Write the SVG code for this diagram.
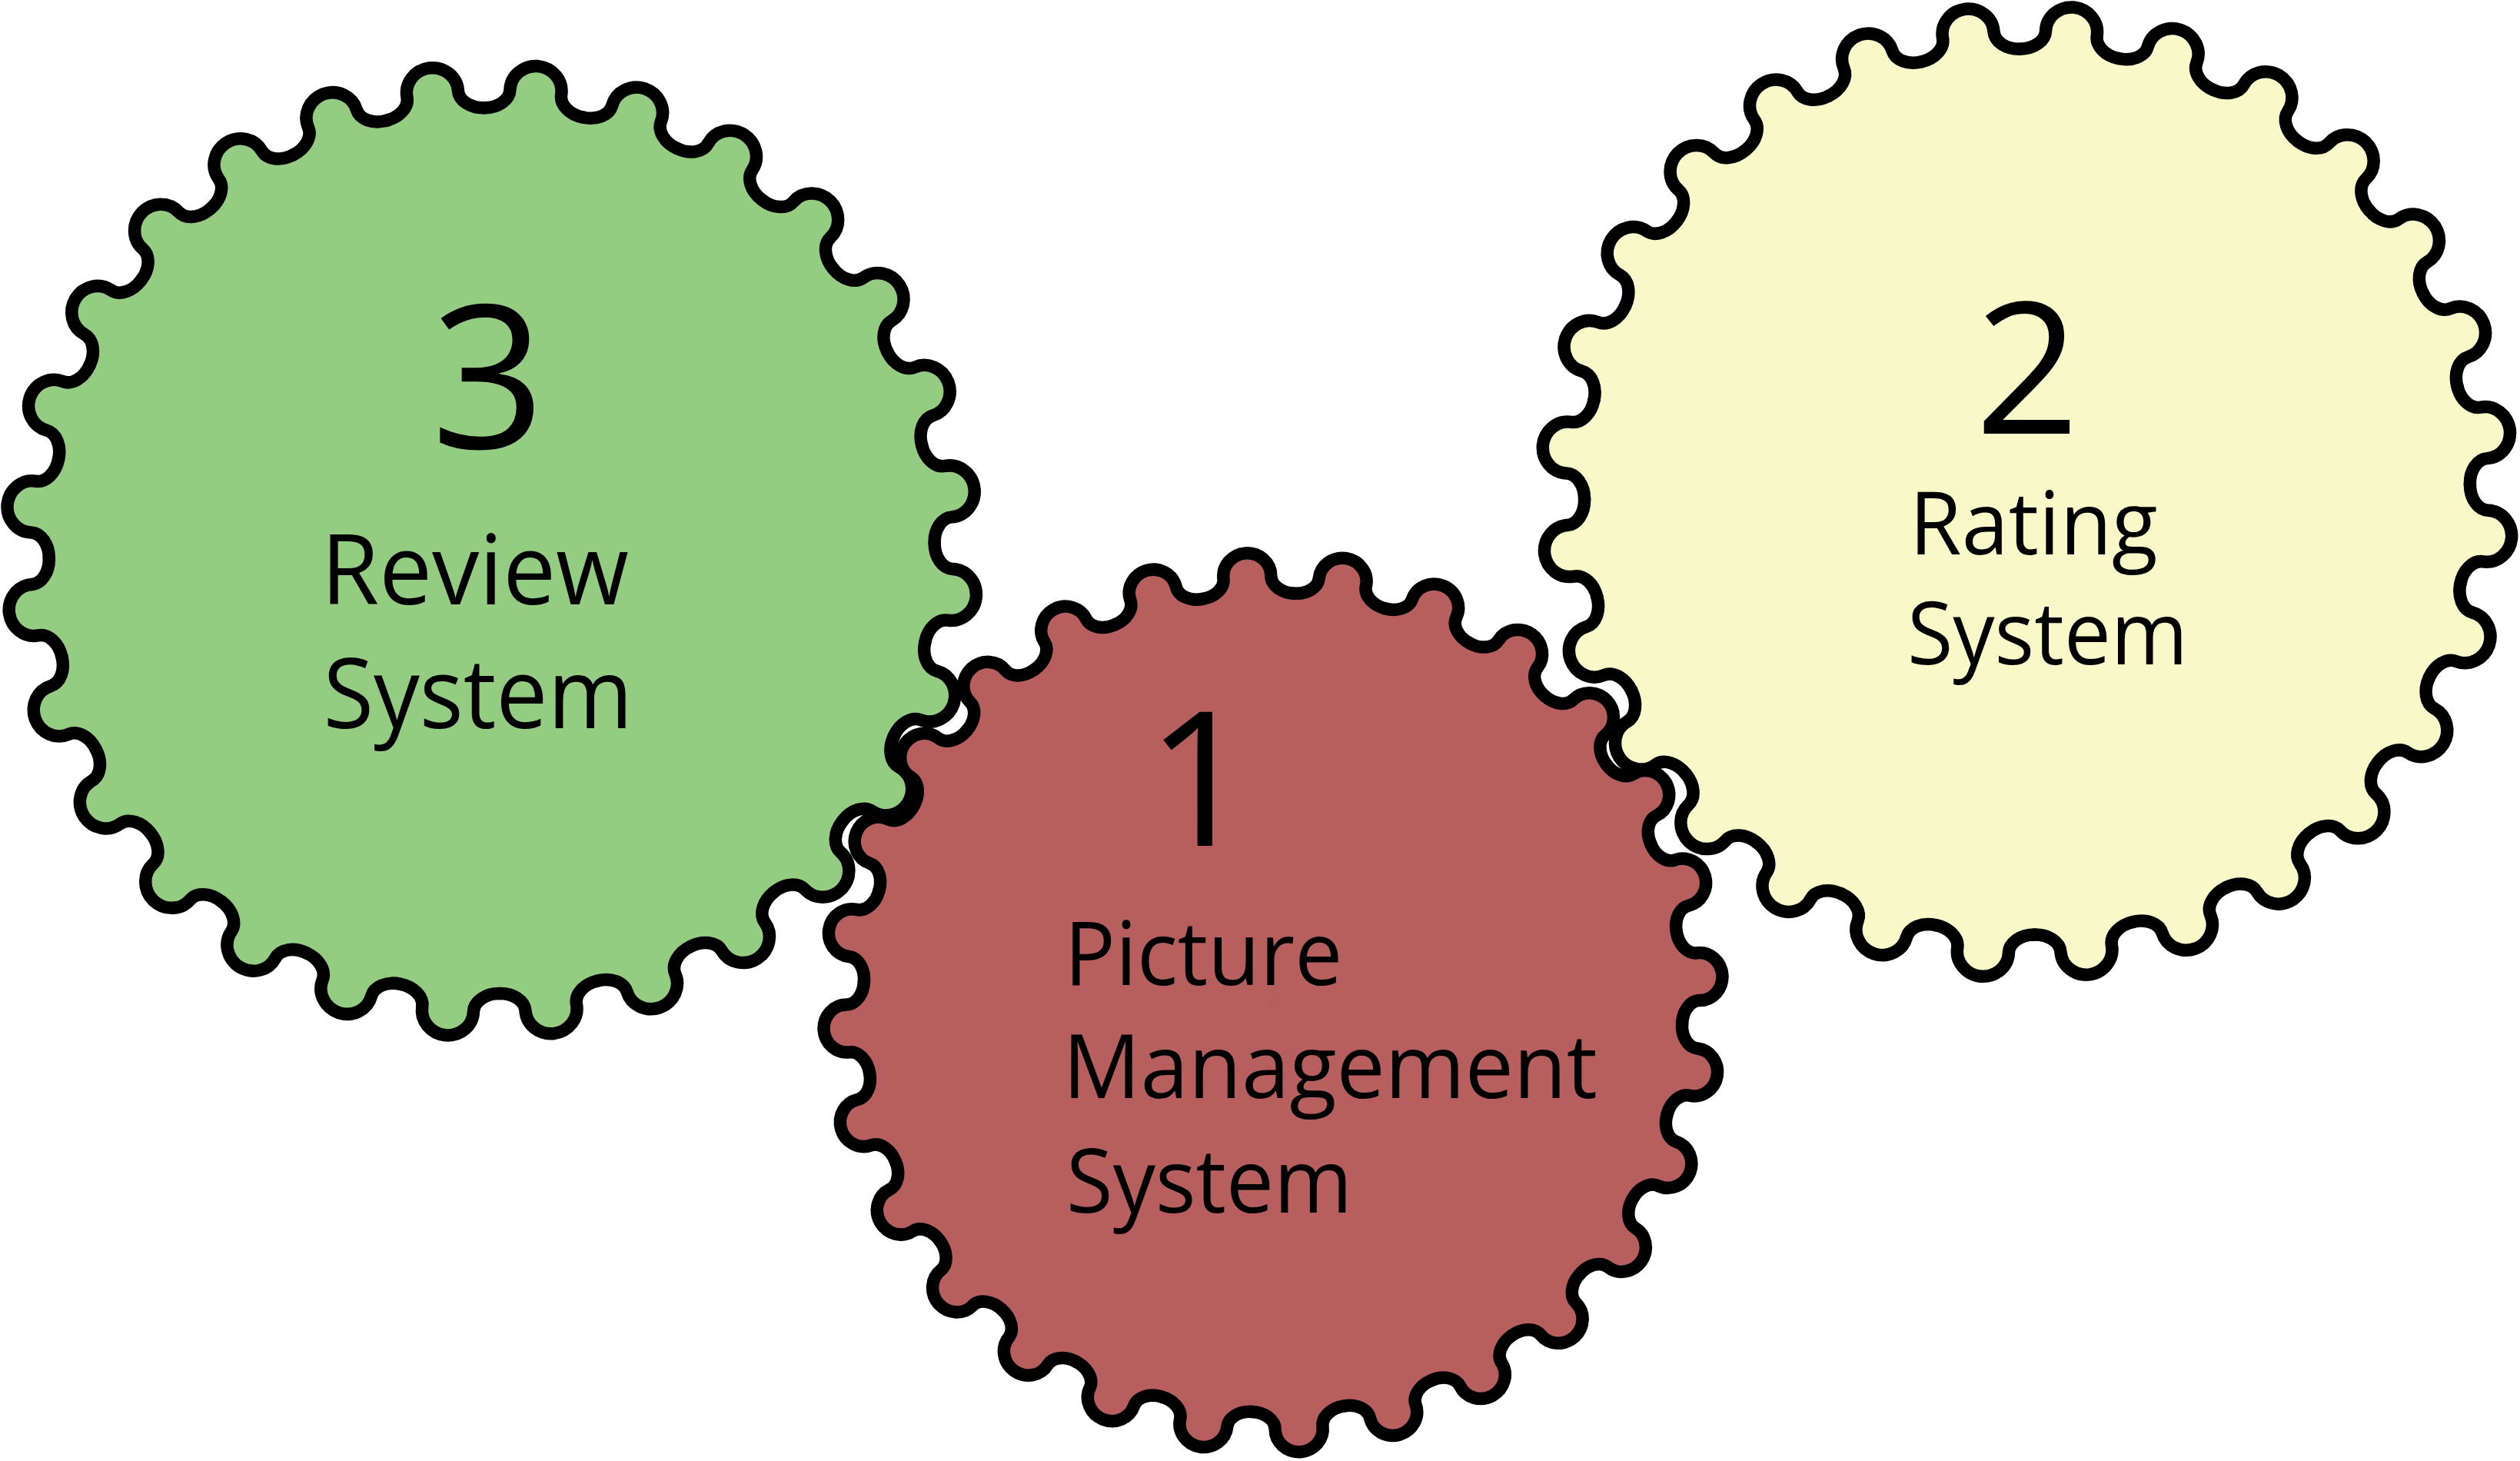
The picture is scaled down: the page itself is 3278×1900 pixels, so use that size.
<svg xmlns="http://www.w3.org/2000/svg" width="3278" height="1900" viewBox="0 0 3278 1900">
<style>
.wave{fill:none;stroke:#000;stroke-linecap:round;stroke-linejoin:round}
.lbl{font-family:"Open Sans","Noto Sans","DejaVu Sans",sans-serif;fill:#000}
</style>
<defs>
<path id="wv" class="wave" d="M-64.492,-572.378 C-46.650,-574.108 -32.753,-585.825 -33.493,-599.065 C-34.511,-617.266 -19.523,-632.699 0,-633 C19.523,-632.699 34.511,-617.266 33.493,-599.065 C32.753,-585.825 46.650,-574.108 64.492,-572.378"/>
<path id="wd" d="M0,0 L-64.492,-572.378 C-46.650,-574.108 -32.753,-585.825 -33.493,-599.065 C-34.511,-617.266 -19.523,-632.699 0,-633 C19.523,-632.699 34.511,-617.266 33.493,-599.065 C32.753,-585.825 46.650,-574.108 64.492,-572.378 Z"/>
<g id="fills">
<use href="#wd"/><use href="#wd" transform="rotate(12.8571)"/><use href="#wd" transform="rotate(25.7143)"/><use href="#wd" transform="rotate(38.5714)"/><use href="#wd" transform="rotate(51.4286)"/><use href="#wd" transform="rotate(64.2857)"/><use href="#wd" transform="rotate(77.1429)"/>
<use href="#wd" transform="rotate(90)"/><use href="#wd" transform="rotate(102.8571)"/><use href="#wd" transform="rotate(115.7143)"/><use href="#wd" transform="rotate(128.5714)"/><use href="#wd" transform="rotate(141.4286)"/><use href="#wd" transform="rotate(154.2857)"/><use href="#wd" transform="rotate(167.1429)"/>
<use href="#wd" transform="rotate(180)"/><use href="#wd" transform="rotate(192.8571)"/><use href="#wd" transform="rotate(205.7143)"/><use href="#wd" transform="rotate(218.5714)"/><use href="#wd" transform="rotate(231.4286)"/><use href="#wd" transform="rotate(244.2857)"/><use href="#wd" transform="rotate(257.1429)"/>
<use href="#wd" transform="rotate(270)"/><use href="#wd" transform="rotate(282.8571)"/><use href="#wd" transform="rotate(295.7143)"/><use href="#wd" transform="rotate(308.5714)"/><use href="#wd" transform="rotate(321.4286)"/><use href="#wd" transform="rotate(334.2857)"/><use href="#wd" transform="rotate(347.1429)"/>
</g>
<g id="waves">
<use href="#wv"/><use href="#wv" transform="rotate(12.8571)"/><use href="#wv" transform="rotate(25.7143)"/><use href="#wv" transform="rotate(38.5714)"/><use href="#wv" transform="rotate(51.4286)"/><use href="#wv" transform="rotate(64.2857)"/><use href="#wv" transform="rotate(77.1429)"/>
<use href="#wv" transform="rotate(90)"/><use href="#wv" transform="rotate(102.8571)"/><use href="#wv" transform="rotate(115.7143)"/><use href="#wv" transform="rotate(128.5714)"/><use href="#wv" transform="rotate(141.4286)"/><use href="#wv" transform="rotate(154.2857)"/><use href="#wv" transform="rotate(167.1429)"/>
<use href="#wv" transform="rotate(180)"/><use href="#wv" transform="rotate(192.8571)"/><use href="#wv" transform="rotate(205.7143)"/><use href="#wv" transform="rotate(218.5714)"/><use href="#wv" transform="rotate(231.4286)"/><use href="#wv" transform="rotate(244.2857)"/><use href="#wv" transform="rotate(257.1429)"/>
<use href="#wv" transform="rotate(270)"/><use href="#wv" transform="rotate(282.8571)"/><use href="#wv" transform="rotate(295.7143)"/><use href="#wv" transform="rotate(308.5714)"/><use href="#wv" transform="rotate(321.4286)"/><use href="#wv" transform="rotate(334.2857)"/><use href="#wv" transform="rotate(347.1429)"/>
</g>
<g id="gear">
<circle r="578"/>
<use href="#fills"/>
<use href="#waves"/>
</g>
</defs>
<rect width="3278" height="1900" fill="#fff"/>
<g id="node-review">
<use href="#gear" transform="translate(639.7,716.2) rotate(5.47)" fill="#94CC82" stroke-width="16.5"/>
<text class="lbl" x="635" y="583" font-size="260" text-anchor="middle">3</text>
<text class="lbl" x="417.6" y="785.9" font-size="127" textLength="400.4" lengthAdjust="spacingAndGlyphs">Review</text>
<text class="lbl" x="420.4" y="947.1" font-size="127" textLength="402.7" lengthAdjust="spacingAndGlyphs">System</text>
</g>
<g id="node-rating">
<use href="#gear" transform="translate(2637,639.6) rotate(5.5)" fill="#F8F8C8" stroke-width="16.5"/>
<text class="lbl" x="2637" y="563.8" font-size="238" text-anchor="middle">2</text>
<text class="lbl" x="2483.8" y="721.4" font-size="113" textLength="323" lengthAdjust="spacingAndGlyphs">Rating</text>
<text class="lbl" x="2480.9" y="864" font-size="113" textLength="365.2" lengthAdjust="spacingAndGlyphs">System</text>
</g>
<g id="node-picture">
<use href="#gear" transform="translate(1656,1303.8) rotate(9.38) scale(0.925)" fill="#B75E5E" stroke-width="17.84"/>
<text class="lbl" x="1561" y="1099.7" font-size="244" text-anchor="middle">1</text>
<text class="lbl" x="1384.6" y="1281" font-size="116" textLength="361.6" lengthAdjust="spacingAndGlyphs">Picture</text>
<text class="lbl" x="1382.4" y="1428" font-size="116" textLength="695.5" lengthAdjust="spacingAndGlyphs">Management</text>
<text class="lbl" x="1387.1" y="1577.2" font-size="116" textLength="372" lengthAdjust="spacingAndGlyphs">System</text>
</g>
<g id="connectors"/>
</svg>
